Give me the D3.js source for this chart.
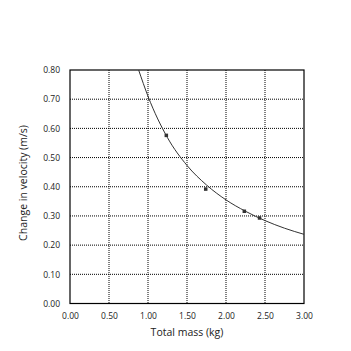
<!DOCTYPE html>
<html><head><meta charset="utf-8">
<script src="https://cdn.jsdelivr.net/npm/d3@7"></script>
<style>body{margin:0;background:#fff}svg{display:block}text{font-family:"Open Sans",sans-serif;fill:#222}</style>
</head><body>
<script>
const massData = [1.235, 1.74, 2.235, 2.43];
const velocityData = [0.576, 0.392, 0.316, 0.293];
const fitX = [0.88, 1.0, 1.25, 1.5, 1.75, 2.0, 2.25, 2.5, 2.75, 3.0];
const fitY = [0.80, 0.71, 0.568, 0.473, 0.406, 0.355, 0.316, 0.284, 0.258, 0.237];
const xTicks = [0, 0.5, 1, 1.5, 2, 2.5, 3];
const yTicks = [0, 0.1, 0.2, 0.3, 0.4, 0.5, 0.6, 0.7, 0.8];

const W = 351, H = 351;
const L = 70, R = 304, T = 70, B = 303.5;
const svg = d3.select("body").append("svg").attr("width", W).attr("height", H);
const x = d3.scaleLinear().domain([0, 3]).range([L, R]);
const y = d3.scaleLinear().domain([0, 0.8]).range([B, T]);

// grid
const g = svg.append("g");
g.selectAll(".vg").data(xTicks.slice(1, -1)).join("line")
  .attr("x1", d => x(d)).attr("x2", d => x(d)).attr("y1", T).attr("y2", B)
  .attr("stroke", "#000").attr("stroke-width", 1).attr("stroke-dasharray", "1,1");
g.selectAll(".hg").data(yTicks.slice(1, -1)).join("line")
  .attr("y1", d => y(d)).attr("y2", d => y(d)).attr("x1", L).attr("x2", R)
  .attr("stroke", "#000").attr("stroke-width", 1).attr("stroke-dasharray", "1,1");

svg.append("rect").attr("x", L).attr("y", T).attr("width", R - L).attr("height", B - T)
  .attr("fill", "none").attr("stroke", "#000").attr("stroke-width", 1.2);

// axes labels
const xa = svg.append("g").attr("transform", `translate(0,${B})`)
  .call(d3.axisBottom(x).tickValues(xTicks).tickFormat(d3.format(".2f")).tickSize(0).tickPadding(9));
xa.select(".domain").remove();
xa.selectAll("text").attr("font-size", 8.5).attr("font-family", "'Open Sans',sans-serif").attr("fill", "#222");
const ya = svg.append("g").attr("transform", `translate(${L},0)`)
  .call(d3.axisLeft(y).tickValues(yTicks).tickFormat(d3.format(".2f")).tickSize(0).tickPadding(10));
ya.select(".domain").remove();
ya.selectAll("text").attr("font-size", 8.5).attr("font-family", "'Open Sans',sans-serif").attr("fill", "#222");

// fit curve
const line = d3.line().x(d => x(d[0])).y(d => y(d[1])).curve(d3.curveMonotoneX);
svg.append("path").datum(fitX.map((v, i) => [v, fitY[i]]))
  .attr("d", line).attr("fill", "none").attr("stroke", "#333").attr("stroke-width", 1);

// points
svg.selectAll(".pt").data(massData.map((v, i) => [v, velocityData[i]])).join("rect")
  .attr("x", d => x(d[0]) - 1.75).attr("y", d => y(d[1]) - 1.75)
  .attr("width", 3.5).attr("height", 3.5).attr("fill", "#333");

svg.append("text").attr("x", (L + R) / 2).attr("y", 336).attr("text-anchor", "middle")
  .attr("font-size", 10.5).text("Total mass (kg)");
svg.append("text").attr("transform", `translate(27,183) rotate(-90)`)
  .attr("text-anchor", "middle").attr("font-size", 10.5).text("Change in velocity (m/s)");
</script>
</body></html>
